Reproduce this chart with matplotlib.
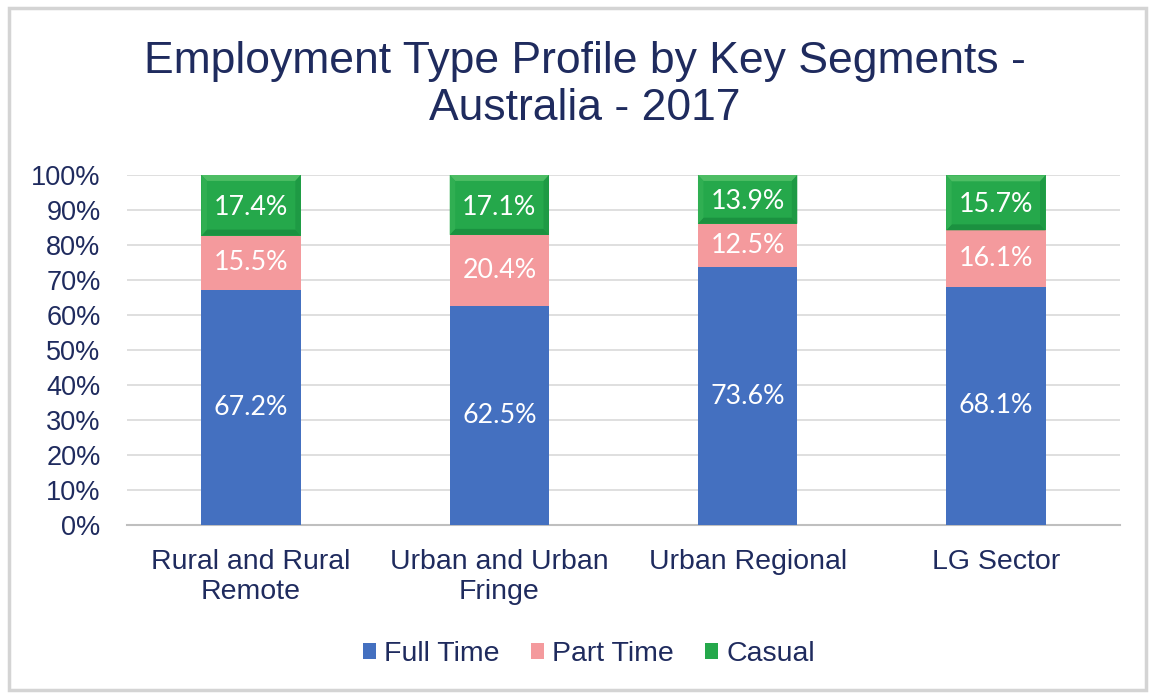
import matplotlib
matplotlib.use("Agg")
import matplotlib.pyplot as plt
from matplotlib.patches import Polygon, Rectangle
from matplotlib.ticker import MultipleLocator, PercentFormatter

categories = ["Rural and Rural\nRemote", "Urban and Urban\nFringe", "Urban Regional", "LG Sector"]
full_time = [67.2, 62.5, 73.6, 68.1]
part_time = [15.5, 20.4, 12.5, 16.1]
casual = [17.4, 17.1, 13.9, 15.7]
series_names = ["Full Time", "Part Time", "Casual"]

BLUE = "#4470C0"
PINK = "#F49A9D"
GREEN = "#25A84B"
NAVY = "#1F2B5E"

plt.rcParams["font.family"] = ["Liberation Sans", "DejaVu Sans"]

fig = plt.figure(figsize=(11.51, 6.93), dpi=100)
# outer border
fig.patches.append(Rectangle((0.008, 0.004), 0.988, 0.984, transform=fig.transFigure,
                             fill=False, edgecolor="#D4D4D4", linewidth=2.5))

ax = fig.add_axes([127 / 1151, 1 - 525 / 693, (1120 - 127) / 1151, (525 - 175) / 693])
x = list(range(len(categories)))
w = 0.4

b1 = ax.bar(x, full_time, w, color=BLUE, label=series_names[0], zorder=3)
bottom2 = full_time
b2 = ax.bar(x, part_time, w, bottom=bottom2, color=PINK, label=series_names[1], zorder=3)
bottom3 = [a + b for a, b in zip(full_time, part_time)]
top3 = [min(100.0, b + c) for b, c in zip(bottom3, casual)]
heights3 = [t - b for t, b in zip(top3, bottom3)]
b3 = ax.bar(x, heights3, w, bottom=bottom3, color=GREEN, label=series_names[2], zorder=3)

# bevel effect on casual bars
bx = 0.022
by = 1.7
for rect in b3:
    x0 = rect.get_x(); x1 = x0 + rect.get_width()
    y0 = rect.get_y(); y1 = y0 + rect.get_height()
    ax.add_patch(Polygon([(x0, y1), (x1, y1), (x1 - bx, y1 - by), (x0 + bx, y1 - by)],
                         closed=True, color="#4DBD64", lw=0, zorder=4))
    ax.add_patch(Polygon([(x0, y0), (x1, y0), (x1 - bx, y0 + by), (x0 + bx, y0 + by)],
                         closed=True, color="#1B9140", lw=0, zorder=4))
    ax.add_patch(Polygon([(x0, y0), (x0, y1), (x0 + bx, y1 - by), (x0 + bx, y0 + by)],
                         closed=True, color="#30AF52", lw=0, zorder=4))
    ax.add_patch(Polygon([(x1, y0), (x1, y1), (x1 - bx, y1 - by), (x1 - bx, y0 + by)],
                         closed=True, color="#1E9A44", lw=0, zorder=4))

label_font = dict(family=["Lato", "DejaVu Sans"], fontsize=19.3, color="white",
                  ha="center", va="center", zorder=6)
for i in x:
    ax.text(i, full_time[i] / 2, f"{full_time[i]:.1f}%", **label_font)
    ax.text(i, bottom2[i] + part_time[i] / 2, f"{part_time[i]:.1f}%", **label_font)
    ax.text(i, bottom3[i] + heights3[i] / 2 - 0.6, f"{casual[i]:.1f}%", **label_font)

ax.set_xlim(-0.5, len(categories) - 0.5)
ax.set_ylim(0, 100)
ax.yaxis.set_major_locator(MultipleLocator(10))
ax.yaxis.set_major_formatter(PercentFormatter(decimals=0))
ax.grid(axis="y", color="#D9D9D9", linewidth=1.2, zorder=0)
ax.set_axisbelow(True)
for s in ["top", "right", "left"]:
    ax.spines[s].set_visible(False)
ax.spines["bottom"].set_color("#BFBFBF")
ax.spines["bottom"].set_linewidth(1.5)
ax.tick_params(axis="both", length=0, labelcolor=NAVY)
ax.tick_params(axis="y", pad=19, labelsize=19.5)
ax.tick_params(axis="x", pad=17, labelsize=20.5)
ax.set_xticks(x)
ax.set_xticklabels(categories, linespacing=1.22)

fig.text(585 / 1151, 1 - 85 / 693, "Employment Type Profile by Key Segments -\nAustralia - 2017",
         ha="center", va="center", fontsize=32, color=NAVY, linespacing=1.18)

leg = fig.legend(handles=[b1, b2, b3], labels=series_names, loc="center",
                 bbox_to_anchor=(589 / 1151, 1 - 654 / 693), ncol=3, frameon=False,
                 fontsize=20.5, handlelength=0.45, handleheight=0.45, handletextpad=0.3,
                 columnspacing=1.1)
for t in leg.get_texts():
    t.set_color(NAVY)

fig.savefig("out.png", dpi=100)
